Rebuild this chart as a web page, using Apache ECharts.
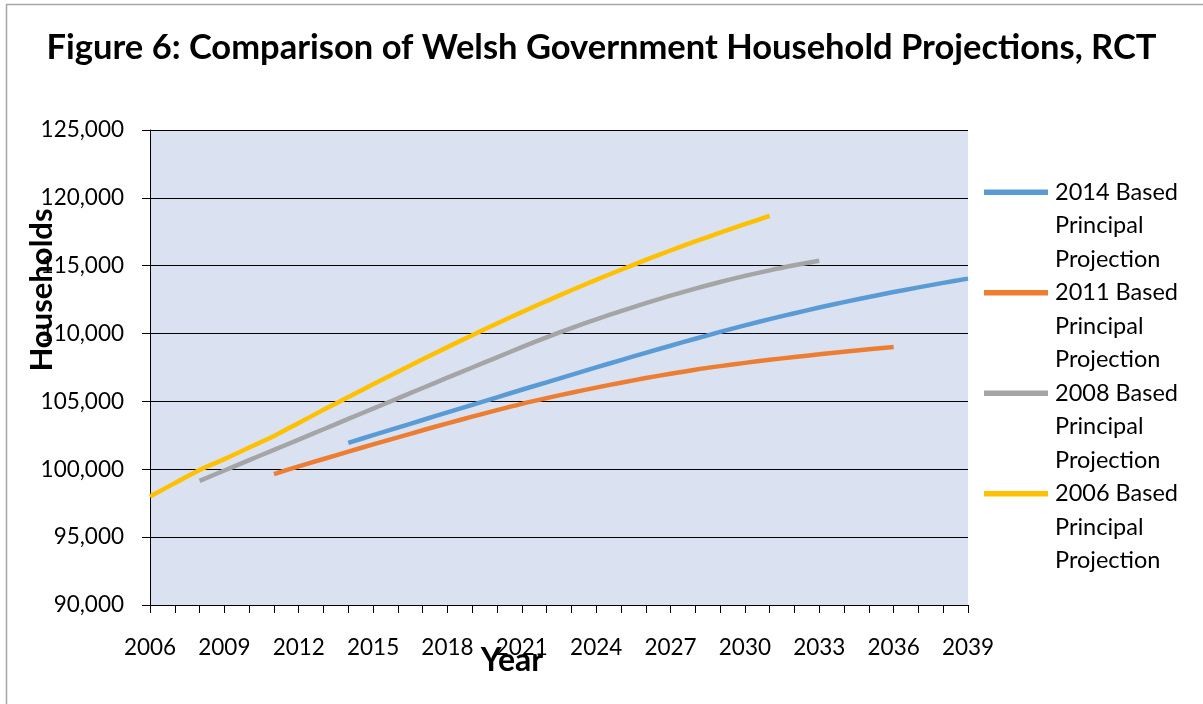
<!DOCTYPE html>
<html>
<head>
<meta charset="utf-8">
<script src="https://cdn.jsdelivr.net/npm/echarts@6/dist/echarts.min.js"></script>
<style>
  html, body { margin: 0; padding: 0; background: #ffffff; }
  #chart { width: 1203px; height: 704px; }
</style>
</head>
<body>
<div id="chart"></div>
<script>
// ---- Data ----
const titleText = 'Figure 6: Comparison of Welsh Government Household Projections, RCT';
const xAxisTitle = 'Year';
const yAxisTitle = 'Households';

const years = [2006, 2007, 2008, 2009, 2010, 2011, 2012, 2013, 2014, 2015, 2016, 2017,
  2018, 2019, 2020, 2021, 2022, 2023, 2024, 2025, 2026, 2027, 2028, 2029, 2030, 2031,
  2032, 2033, 2034, 2035, 2036, 2037, 2038, 2039];

const seriesNames = [
  '2014 Based Principal Projection',
  '2011 Based Principal Projection',
  '2008 Based Principal Projection',
  '2006 Based Principal Projection'
];

// values aligned with `years` (null = no projection for that year)
const based2014 = [null, null, null, null, null, null, null, null,
  101950, 102510, 103070, 103630, 104190, 104750, 105305, 105860, 106410, 106960,
  107505, 108045, 108580, 109105, 109620, 110120, 110600, 111060, 111500, 111920,
  112320, 112700, 113060, 113405, 113735, 114050];

const based2011 = [null, null, null, null, null,
  99650, 100210, 100760, 101300, 101830, 102350, 102875, 103385, 103880, 104360,
  104820, 105240, 105640, 106020, 106380, 106720, 107040, 107340, 107600, 107840,
  108065, 108275, 108470, 108665, 108845, 109010, null, null, null];

const based2008 = [null, null,
  99150, 99910, 100670, 101430, 102190, 102950, 103710, 104470, 105230, 105990,
  106750, 107500, 108250, 109000, 109720, 110400, 111050, 111660, 112240, 112790,
  113310, 113800, 114250, 114660, 115030, 115370, null, null, null, null, null, null];

const based2006 = [
  98000, 98980, 99950, 100750, 101600, 102450, 103415, 104380, 105325, 106260,
  107185, 108100, 109000, 109880, 110740, 111580, 112395, 113190, 113960, 114705,
  115425, 116120, 116790, 117435, 118060, 118665, null, null, null, null, null, null,
  null, null];

const yTicks = { min: 90000, max: 125000, step: 5000 };
const xLabelEvery = 3;

// ---- Styles ----
const colors = ['#5B9BD5', '#ED7D31', '#A5A5A5', '#FFC000'];
const FONT = 'Lato';

const chart = echarts.init(document.getElementById('chart'), null, { renderer: 'canvas' });

const seriesData = [based2014, based2011, based2008, based2006];

const option = {
  backgroundColor: '#ffffff',
  animation: false,
  title: {
    text: titleText,
    left: 'center',
    top: 25,
    textStyle: { fontFamily: FONT, fontWeight: 'bold', fontSize: 34.5, color: '#000' }
  },
  grid: {
    left: 150, right: 235, top: 130, bottom: 99,
    show: true, backgroundColor: '#DAE2F2', borderWidth: 0, containLabel: false
  },
  legend: {
    orient: 'vertical',
    left: 984,
    top: 175.5,
    padding: 0,
    itemWidth: 66,
    itemHeight: 100,
    itemGap: 0,
    icon: 'path://M0,0L0.01,0L0,0.01Z M0,13.7L64,13.7L64,19.3L0,19.3Z M66,100L66.01,100L66,99.99Z',
    itemStyle: { borderWidth: 0 },
    data: seriesNames,
    formatter: function (name) {
      return name.replace(' Principal', '\nPrincipal').replace(' Projection', '\nProjection');
    },
    textStyle: { fontFamily: FONT, fontSize: 23.5, lineHeight: 33.5, color: '#000' }
  },
  xAxis: {
    type: 'category',
    data: years.map(String),
    boundaryGap: false,
    axisLine: { show: true, lineStyle: { color: '#000', width: 1 } },
    axisTick: { show: true, interval: 0, length: 8, lineStyle: { color: '#000', width: 1 } },
    axisLabel: {
      interval: xLabelEvery - 1,
      margin: 31,
      fontFamily: FONT, fontSize: 22.5, color: '#000'
    },
    splitLine: { show: false }
  },
  yAxis: {
    type: 'value',
    min: yTicks.min, max: yTicks.max, interval: yTicks.step,
    axisLine: { show: true, lineStyle: { color: '#000', width: 1 } },
    axisTick: { show: true, length: 8, lineStyle: { color: '#000', width: 1 } },
    axisLabel: {
      margin: 26,
      fontFamily: FONT, fontSize: 22.5, color: '#000',
      formatter: function (v) { return v.toLocaleString('en-US'); }
    },
    splitLine: { show: true, lineStyle: { color: '#000', width: 1 } }
  },
  graphic: [
    {
      type: 'rect', left: 4, top: 2, silent: true, z: -10,
      shape: { width: 1212, height: 730 },
      style: { fill: 'none', stroke: '#A6A6A6', lineWidth: 1.5 }
    },
    {
      type: 'text', x: 512, y: 661, silent: true,
      style: { text: xAxisTitle, fontFamily: FONT, fontWeight: 'bold', fontSize: 32,
        fill: '#000', align: 'center', verticalAlign: 'middle' }
    },
    {
      type: 'text', x: 42, y: 290, rotation: Math.PI / 2, silent: true,
      style: { text: yAxisTitle, fontFamily: FONT, fontWeight: 'bold', fontSize: 31,
        fill: '#000', align: 'center', verticalAlign: 'middle' }
    }
  ],
  series: seriesNames.map(function (name, i) {
    return {
      name: name,
      type: 'line',
      data: seriesData[i],
      symbol: 'none',
      smooth: 0.3,
      connectNulls: false,
      color: colors[i],
      lineStyle: { color: colors[i], width: 4.5, cap: 'butt' },
      z: 3
    };
  })
};

chart.setOption(option);
</script>
</body>
</html>
